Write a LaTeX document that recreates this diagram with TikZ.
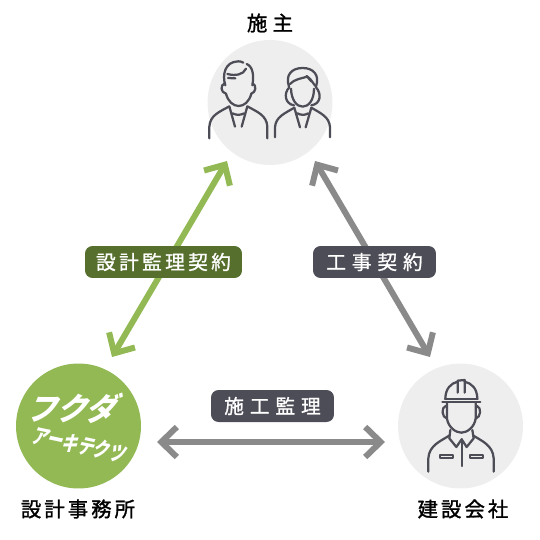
\documentclass[tikz,border=0pt]{standalone}
\usepackage{fontspec}
\usetikzlibrary{arrows.meta,positioning}
\setmainfont{Noto Sans CJK JP}
\newfontfamily\jplabelwide[LetterSpace=30,FakeBold=1.1]{Noto Sans CJK JP}
\newfontfamily\jplabel[LetterSpace=17,FakeBold=1.1]{Noto Sans CJK JP}
\newfontfamily\jptitle[LetterSpace=15,FakeBold=1.4]{Noto Sans CJK JP}
\definecolor{lineink}{HTML}{4D4D57}
\definecolor{hubgray}{HTML}{EEEEEE}
\definecolor{leaf}{HTML}{93B954}
\definecolor{leafdark}{HTML}{566F2C}
\definecolor{arrowgray}{HTML}{8A8A8A}

\begin{document}
\begin{tikzpicture}[
  x=0.02cm, y=-0.02cm,
  hub/.style={circle, fill=#1, minimum size=2.5cm, inner sep=0pt},
  link/.style={{Straight Barb[length=3.1mm,width=6mm]}-{Straight Barb[length=3.1mm,width=6mm]}, line width=1.2mm, #1},
  pill/.style={rectangle, rounded corners=1.5mm, fill=#1, text=white, minimum height=0.64cm, inner sep=0pt},
  title/.style={font=\fontsize{11.6pt}{13pt}\jptitle, text=black, inner sep=0pt},
  ink/.style={draw=lineink, line width=0.45mm, line cap=round, line join=round},
  logo/.style={text=white, inner sep=0pt, transform shape, font=\bfseries}
]
  \useasboundingbox (0,0) rectangle (540,540);

  \node[hub=hubgray] (owner) at (270,102.5) {};
  \node[hub=leaf] (office) at (78.5,426) {};
  \node[hub=hubgray] (builder) at (460.5,426) {};

  \node[title] (ownerlabel) at (270,23) {施\hspace{3pt}主};
  \node[title] (officelabel) at (78,509) {設計事務所};
  \node[title] (builderlabel) at (463,509) {建設会社};

  \coordinate (greentop) at (227,161);
  \coordinate (greenbot) at (112,357);
  \coordinate (graytop) at (315,161);
  \coordinate (graybot) at (430,357);
  \coordinate (flatleft) at (157,442);
  \coordinate (flatright) at (385,442);
  \draw[link=leaf] (greenbot) -- (greentop);
  \draw[link=arrowgray] (graytop) -- (graybot);
  \draw[link=arrowgray] (flatleft) -- (flatright);

  \node[pill=leafdark, minimum width=3.14cm, font=\fontsize{11.2pt}{12pt}\jplabel] (design) at (163.5,262) {設計監理契約};
  \node[pill=lineink, minimum width=2.46cm, font=\fontsize{11.2pt}{12pt}\jplabelwide] (works) at (374.5,262) {工事契約};
  \node[pill=lineink, minimum width=2.46cm, font=\fontsize{11.2pt}{12pt}\jplabelwide] (super) at (272.5,406) {施工監理};

  % logo
  \begin{scope}[shift={(75,408)}, xslant=0.4]
    \node[logo, yscale=1.05, font=\fontsize{17pt}{17pt}\bfseries] (logotop) at (0,0) {フクダ};
  \end{scope}
  \begin{scope}[shift={(80,445)}, rotate=-12, xslant=0.2]
    \node[logo, yscale=1.35, font=\fontsize{9pt}{9pt}\bfseries] (logobot) at (0,0) {アーキテクツ};
  \end{scope}

  % client man
  \begin{scope}[shift={(190,0)}, x=0.00667cm, y=-0.00667cm]
    \draw[ink] (106,256) .. controls (96,225) and (104,185) .. (145,184) .. controls (150,184) and (155,185) .. (160,188);
    \draw[ink] (170,192) .. controls (190,200) and (192,230) .. (187,256);
    \draw[ink] (112,222) .. controls (135,228) and (160,225) .. (168,206);
    \draw[ink] (114,234) -- (136,235);
    \draw[ink] (104,250) .. controls (90,255) and (92,278) .. (108,281);
    \draw[ink] (188,250) .. controls (200,255) and (198,278) .. (184,281);
    \draw[ink] (108,281) .. controls (114,305) and (130,318) .. (146,318) .. controls (162,318) and (178,305) .. (184,281);
    \draw[ink] (58,415) -- (58,380) .. controls (60,345) and (90,335) .. (118,319) -- (135,380);
    \draw[ink] (232,415) -- (232,380) .. controls (230,345) and (200,335) .. (172,319) -- (155,380);
    \draw[ink] (127,340) .. controls (140,346) and (150,346) .. (163,340);
    % client woman
    \draw[ink] (297,260) .. controls (285,225) and (305,204) .. (338,204) .. controls (370,204) and (390,225) .. (378,260);
    \draw[ink] (300,252) .. controls (312,238) and (335,235) .. (352,230) .. controls (362,236) and (368,248) .. (376,258);
    \draw[ink] (350,228) -- (364,244);
    \draw[ink] (298,262) .. controls (280,280) and (285,312) .. (312,316);
    \draw[ink] (378,262) .. controls (396,282) and (392,312) .. (364,316);
    \draw[ink] (303,266) .. controls (304,300) and (320,320) .. (338,320) .. controls (356,320) and (372,300) .. (372,266);
    \draw[ink] (255,412) -- (255,382) .. controls (257,350) and (285,340) .. (313,323) -- (330,382);
    \draw[ink] (420,412) -- (420,382) .. controls (418,350) and (392,340) .. (364,323) -- (347,382);
    \draw[ink] (322,340) .. controls (333,346) and (345,346) .. (355,340);
  \end{scope}

  % worker
  \begin{scope}[shift={(385,350)}, x=0.00667cm, y=-0.00667cm]
    \draw[ink] (181,145) .. controls (182,115) and (198,100) .. (218,95);
    \draw[ink] (239,95) .. controls (260,100) and (276,115) .. (277,145);
    \draw[ink] (218,128) -- (218,92) -- (239,90) -- (239,128);
    \draw[ink] (180,146) -- (278,146);
    \draw[ink] (172,157) -- (286,157);
    \draw[ink] (182,168) .. controls (168,172) and (170,202) .. (186,206);
    \draw[ink] (276,168) .. controls (290,172) and (288,202) .. (272,206);
    \draw[ink] (186,160) -- (186,206) .. controls (190,232) and (212,248) .. (229,248) .. controls (246,248) and (268,232) .. (272,206) -- (272,160);
    \draw[ink] (130,365) -- (130,325) .. controls (132,285) and (170,272) .. (194,256);
    \draw[ink] (326,365) -- (326,325) .. controls (324,285) and (288,272) .. (264,256);
    \draw[ink] (196,240) -- (193,265) -- (214,291) -- (230,268) -- (245,291) -- (266,265) -- (262,240);
    \draw[ink] (230,268) -- (230,348);
    \draw[ink] (166,314) rectangle (205,325);
    \draw[ink] (255,314) rectangle (295,325);
  \end{scope}
\end{tikzpicture}
\end{document}
